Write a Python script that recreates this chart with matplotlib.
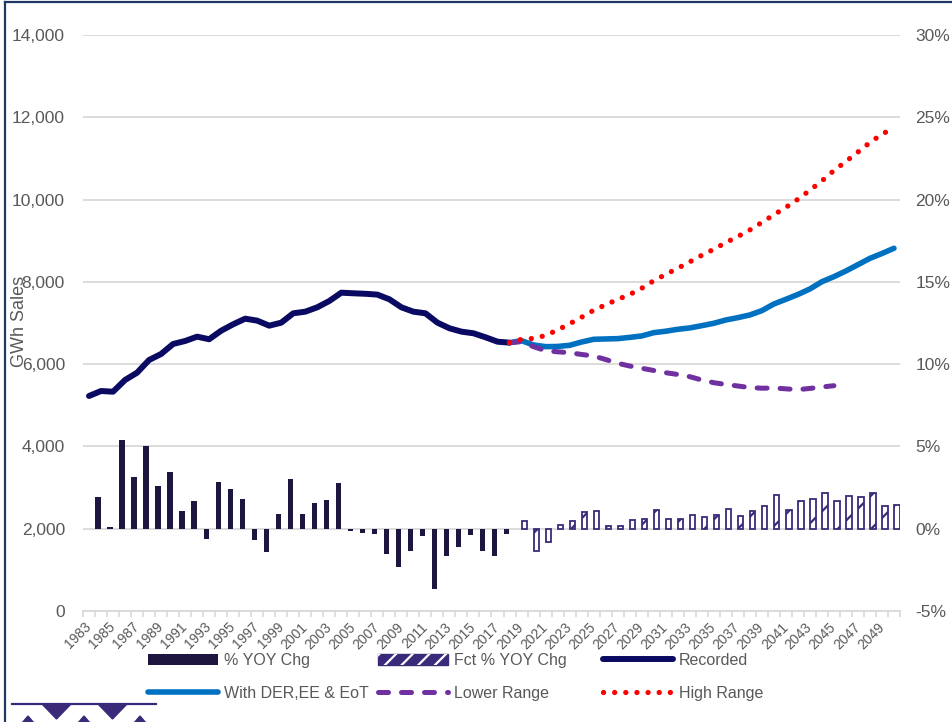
"""
GWh sales history + forecast ranges, with YOY % change bars on the right axis
"""

import matplotlib
matplotlib.use("Agg")
import matplotlib.pyplot as plt
import numpy as np
from matplotlib.patches import Patch, Polygon
from matplotlib.lines import Line2D
from matplotlib.legend_handler import HandlerTuple

plt.rcParams['font.family'] = ['Liberation Sans', 'DejaVu Sans']

W, H = 953, 722

years = np.arange(1983, 2051)

# % YOY change, recorded (1984-2018)
hist_years = np.arange(1984, 2019)
hist_pct = [1.92, 0.10, 5.40, 3.17, 5.02, 2.60, 3.45, 1.05, 1.69, -0.63,
            2.86, 2.42, 1.83, -0.71, -1.43, 0.87, 3.04, 0.91, 1.57, 1.77,
            2.80, -0.12, -0.24, -0.30, -1.55, -2.34, -1.33, -0.46, -3.65, -1.65,
            -1.11, -0.40, -1.35, -1.65, -0.30]

# % YOY change, forecast (2019-2050)
fct_years = np.arange(2019, 2051)
fct_pct = [0.48, -1.35, -0.81, 0.24, 0.46, 1.03, 1.05, 0.18, 0.18, 0.54,
           0.56, 1.11, 0.56, 0.56, 0.83, 0.71, 0.81, 1.17, 0.77, 1.07,
           1.39, 2.02, 1.11, 1.69, 1.83, 2.18, 1.71, 1.98, 1.94, 2.14,
           1.41, 1.45]

# GWh sales
rec_years = np.arange(1983, 2019)
recorded = [5226, 5347, 5330, 5615, 5792, 6101, 6247, 6490, 6563, 6668,
            6605, 6813, 6969, 7105, 7057, 6935, 7008, 7236, 7275, 7382,
            7535, 7737, 7722, 7710, 7690, 7576, 7382, 7275, 7236, 7008,
            6872, 6790, 6750, 6653, 6546, 6522]

der_years = np.arange(2018, 2051)
with_der = [6522, 6570, 6466, 6425, 6430, 6458, 6538, 6604, 6612, 6620,
            6650, 6685, 6765, 6800, 6847, 6880, 6935, 6993, 7073, 7130,
            7195, 7300, 7462, 7576, 7693, 7827, 8004, 8126, 8265, 8418,
            8572, 8690, 8816]

low_years = np.arange(2018, 2046)
lower_range = [6522, 6546, 6425, 6327, 6300, 6279, 6235, 6198, 6113, 6021,
               5955, 5900, 5846, 5792, 5749, 5695, 5615, 5549, 5506, 5469,
               5430, 5415, 5420, 5400, 5380, 5410, 5445, 5476]

high_years = np.arange(2018, 2051)
high_range = [6522, 6604, 6625, 6696, 6830, 6981, 7141, 7309, 7443, 7572,
              7693, 7844, 8027, 8180, 8330, 8486, 8646, 8792, 8955, 9101,
              9261, 9443, 9630, 9810, 10008, 10226, 10454, 10705, 10926, 11155,
              11388, 11587, 11750]

grey_txt = '#595959'
grid_c = '#d9d9d9'
bar_c = '#1f1640'
fct_c = '#3b2a7a'
rec_c = '#0a0a62'
blue_c = '#0070c0'
purple_c = '#7030a0'
red_c = '#ff0000'


def fx(px):
    return px / W


def fy(py):
    return 1 - py / H


def pos(yrs):
    return np.asarray(yrs) - 1983 + 0.5


fig = plt.figure(figsize=(W / 100, H / 100), dpi=100)
ax = fig.add_axes([fx(83), fy(611), fx(900) - fx(83), fy(35) - fy(611)])
ax2 = ax.twinx()

# left axis: GWh
ax.set_xlim(0, len(years))
ax.set_ylim(0, 14000)
ax.set_yticks(np.arange(0, 14001, 2000))
ax.set_yticklabels([f"{v:,}" for v in range(0, 14001, 2000)])
ax.yaxis.grid(True, color=grid_c, lw=1.3)
ax.set_axisbelow(True)
for s in ['top', 'right', 'left']:
    ax.spines[s].set_visible(False)
ax.spines['bottom'].set_color(grid_c)
ax.spines['bottom'].set_linewidth(1.3)
ax.tick_params(axis='y', length=0, pad=13, labelsize=12.5, labelcolor=grey_txt)

# x ticks: marks on category edges, labels every other year
ax.set_xticks(np.arange(0, len(years) + 1))
ax.set_xticklabels([])
ax.tick_params(axis='x', which='major', length=4, color=grid_c, width=1.2)
ax.set_xticks(pos(years[::2]), minor=True)
ax.set_xticklabels([str(y) for y in years[::2]], minor=True, rotation=45,
                   ha='right', va='center', rotation_mode='anchor')
ax.tick_params(axis='x', which='minor', length=0, pad=10, labelsize=10,
               labelcolor=grey_txt)

# right axis: %
ax2.set_ylim(-5, 30)
ax2.set_yticks(np.arange(-5, 31, 5))
ax2.set_yticklabels([f"{v}%" for v in range(-5, 31, 5)])
for s in ax2.spines.values():
    s.set_visible(False)
ax2.tick_params(axis='y', length=0, pad=11, labelsize=12.5, labelcolor=grey_txt)

bw = 0.46
ax2.bar(pos(hist_years) - 0.24, hist_pct, width=bw, color=bar_c, zorder=2)
plt.rcParams['hatch.linewidth'] = 1.6
ax2.bar(pos(fct_years) + 0.24, fct_pct, width=bw, facecolor='white',
        edgecolor=fct_c, hatch='/', lw=1.3, zorder=2)

# lines on top of bars
ax3 = ax.twinx()
ax3.set_ylim(ax.get_ylim())
ax3.axis('off')
ax3.plot(pos(rec_years), recorded, color=rec_c, lw=4.3,
         solid_capstyle='round', solid_joinstyle='round', zorder=3)
ax3.plot(pos(der_years), with_der, color=blue_c, lw=4.0,
         solid_capstyle='round', solid_joinstyle='round', zorder=4)
ax3.plot(pos(low_years), lower_range, color=purple_c, lw=3.6,
         linestyle=(0, (2.0, 2.6)), dash_capstyle='round', zorder=5)
ax3.plot(pos(high_years), high_range, color=red_c, lw=3.8,
         linestyle=(0, (0.01, 2.1)), dash_capstyle='round', zorder=6)

fig.text(fx(20), fy(321), 'GWh Sales', rotation=90, ha='center', va='center',
         fontsize=13, color=grey_txt)

# legend: three columns
leg_kw = dict(loc='upper left', frameon=False, fontsize=11.5, labelcolor=grey_txt,
              handlelength=4.4, handletextpad=0.35, labelspacing=1.12,
              borderpad=0, borderaxespad=0, handleheight=0.75)
h_hist = Patch(facecolor=bar_c, edgecolor='none')
h_fct = (Patch(facecolor=fct_c, edgecolor=fct_c),
         Patch(facecolor='none', edgecolor='white', hatch='//', lw=0))
h_rec = Line2D([], [], color=rec_c, lw=4.3, solid_capstyle='round')
h_der = Line2D([], [], color=blue_c, lw=4.0, solid_capstyle='round')
h_low = Line2D([], [], color=purple_c, lw=3.6, linestyle=(0, (2.0, 2.6)),
               dash_capstyle='round')
h_high = Line2D([], [], color=red_c, lw=3.8, linestyle=(0, (0.01, 2.1)),
                dash_capstyle='round')

fig.legend([h_hist, h_der], ['% YOY Chg', 'With DER,EE & EoT'],
           bbox_to_anchor=(fx(148), fy(653)), **leg_kw)
fig.legend([h_fct, h_low], ['Fct % YOY Chg', 'Lower Range'],
           bbox_to_anchor=(fx(378), fy(653)),
           handler_map={tuple: HandlerTuple(ndivide=1, pad=0)}, **leg_kw)
fig.legend([h_rec, h_high], ['Recorded', 'High Range'],
           bbox_to_anchor=(fx(603), fy(653)), **leg_kw)

# frame
frame_c = '#203864'
fig.add_artist(Line2D([fx(5), fx(5)], [fy(2), fy(722)], color=frame_c, lw=1.6))
fig.add_artist(Line2D([fx(5), fx(953)], [fy(2), fy(2)], color=frame_c, lw=1.6))

# small logo bottom-left
logo_c = '#3b2a7a'
fig.add_artist(Line2D([fx(12), fx(156)], [fy(704), fy(704)], color=logo_c, lw=1.6))
for x0 in [42, 98]:
    fig.add_artist(Polygon([(fx(x0), fy(704)), (fx(x0 + 29), fy(704)),
                            (fx(x0 + 14.5), fy(719))],
                           closed=True, color=logo_c, transform=fig.transFigure))
for xc in [28, 84, 140]:
    fig.add_artist(Polygon([(fx(xc - 6), fy(723)), (fx(xc + 6), fy(723)),
                            (fx(xc), fy(716))],
                           closed=True, color=logo_c, transform=fig.transFigure))

fig.savefig('out.png', dpi=100)
